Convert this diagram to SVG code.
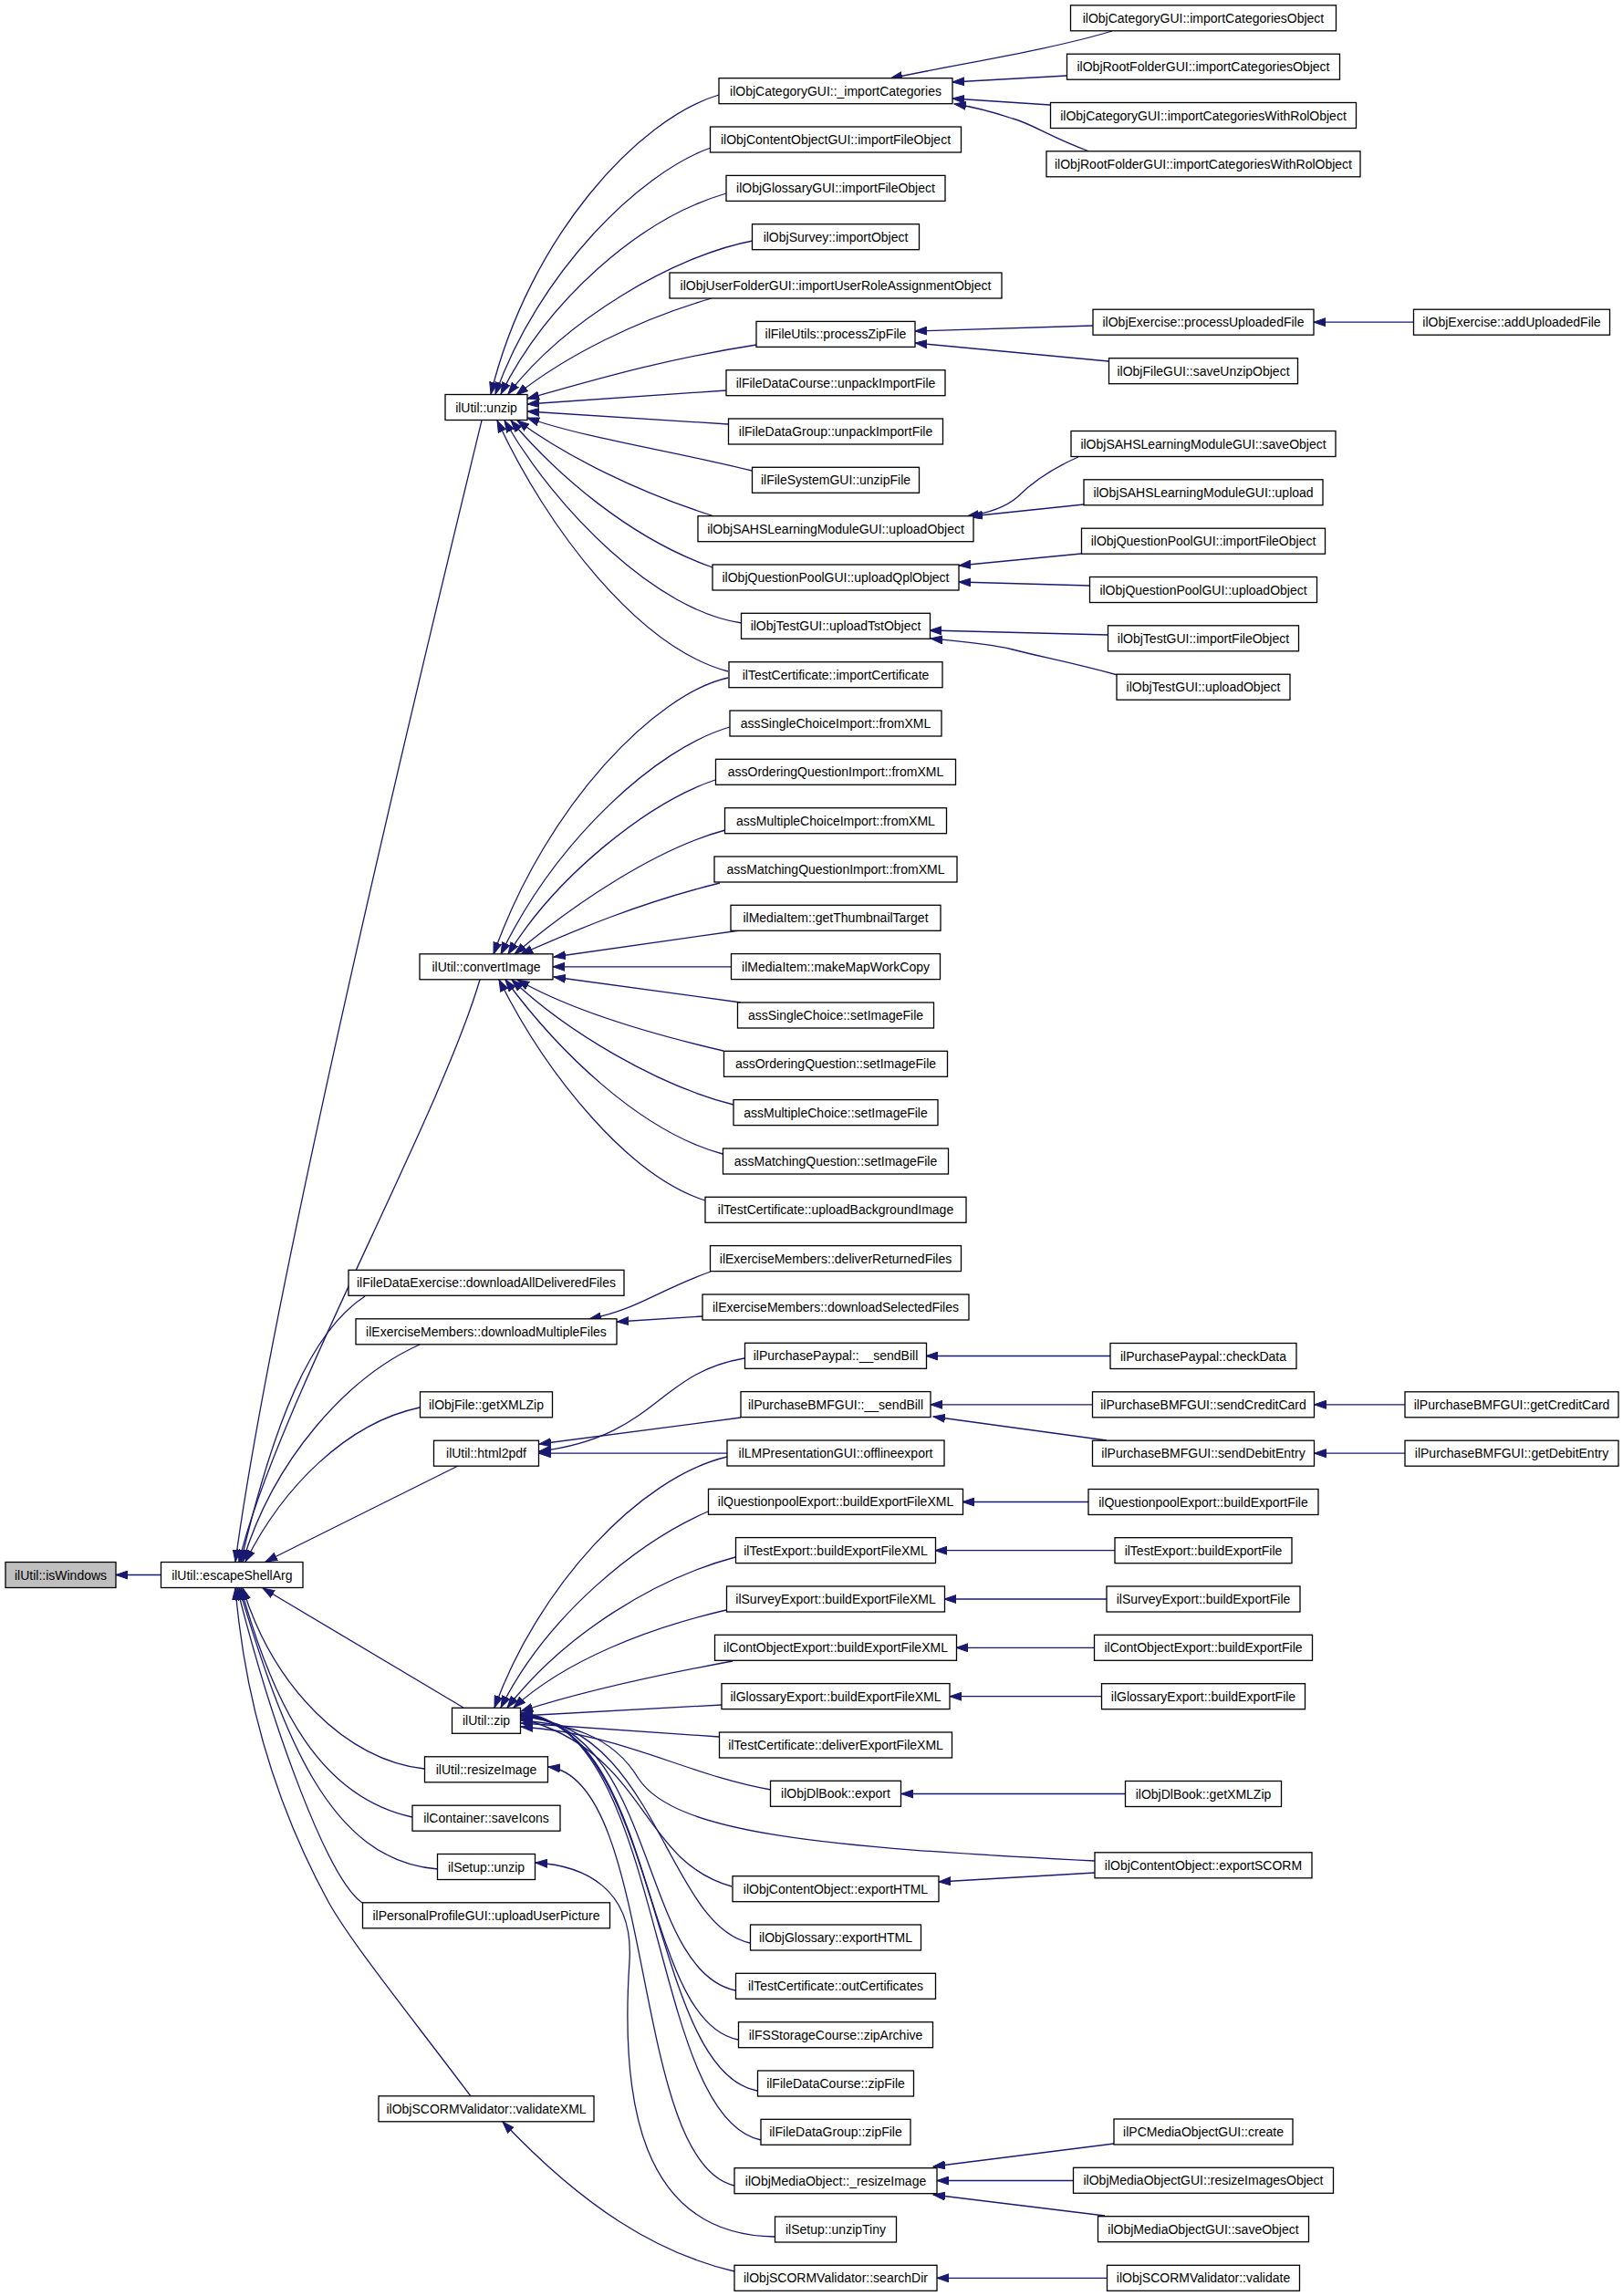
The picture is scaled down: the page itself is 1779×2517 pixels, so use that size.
<svg xmlns="http://www.w3.org/2000/svg" width="1779" height="2517" viewBox="0 0 1779 2517">
<defs>
<style>
.n rect{fill:#fff;stroke:#000;stroke-width:1.3}
.n text{font-family:"Liberation Sans",Arial,sans-serif;font-size:14px;text-anchor:middle;fill:#000}
.g rect{fill:#bfbfbf}
.e path{fill:none;stroke:#191970;stroke-width:1.3;marker-end:url(#ah)}
</style>
<marker id="ah" markerWidth="14" markerHeight="10" refX="13" refY="5" orient="auto" markerUnits="userSpaceOnUse"><path d="M0,0.5 L13,5 L0,9.5 z" fill="#191970" stroke="#191970" stroke-width="1"/></marker>
</defs>
<rect width="1779" height="2517" fill="#fff"/>
<g id="edges" class="e">
<path d="M176.5,1726.5 L127,1726.5"/>
<path d="M528,461 C 470,700 300,1400 258,1712"/>
<path d="M526,1074 C 480,1230 300,1550 262,1712"/>
<path d="M400,1421 C 340,1460 300,1560 264,1712"/>
<path d="M460,1474 C 380,1510 300,1600 266,1712"/>
<path d="M460,1543 C 380,1560 310,1630 269,1712"/>
<path d="M502,1607 L291,1712"/>
<path d="M508,1872 L288,1741"/>
<path d="M465,1939 C 380,1930 300,1850 266,1741"/>
<path d="M452,1992 C 350,1970 300,1870 264,1741"/>
<path d="M480,2049 C 360,2040 310,1900 262,1741"/>
<path d="M397,2086 C 360,2060 300,1900 260,1741"/>
<path d="M516,2298 C 450,2210 385,2130 360,2085 C 300,1975 268,1860 258,1741"/>
<path d="M788,104 C 700,130 580,260 538,432"/>
<path d="M779,162 C 700,190 590,300 543,432"/>
<path d="M796,212 C 700,240 600,330 549,432"/>
<path d="M825,264 C 740,280 620,350 557,432"/>
<path d="M780,327 C 700,350 620,390 566,433"/>
<path d="M829,378 C 720,395 640,420 578,437"/>
<path d="M796,428 L578,443"/>
<path d="M798,465 L578,451"/>
<path d="M824,516 C 740,495 640,480 578,458"/>
<path d="M783,566 C 700,540 620,500 567,461"/>
<path d="M781,622 C 690,590 610,520 560,461"/>
<path d="M813,683 C 720,670 610,560 553,461"/>
<path d="M798,736 C 700,710 600,580 545,461"/>
<path d="M798,743 C 720,760 600,880 541,1046"/>
<path d="M800,797 C 720,820 610,920 549,1046"/>
<path d="M784,855 C 710,880 610,960 557,1046"/>
<path d="M795,910 C 720,930 630,990 564,1046"/>
<path d="M789,968 C 700,990 630,1020 571,1046"/>
<path d="M811,1020 L607,1049"/>
<path d="M801.5,1059.8 L606,1059.8"/>
<path d="M812,1099 L607,1071"/>
<path d="M793,1152 C 720,1135 630,1110 567,1074"/>
<path d="M804,1211 C 720,1190 620,1130 561,1074"/>
<path d="M792,1265 C 700,1240 610,1150 554,1074"/>
<path d="M773,1316 C 690,1290 600,1180 547,1074"/>
<path d="M779,1394 C 720,1415 700,1435 646,1446"/>
<path d="M770,1443 L676,1449"/>
<path d="M816,1489 C 720,1505 720,1575 591,1591"/>
<path d="M812,1554 L591,1583"/>
<path d="M797,1593.2 L590.5,1593.2"/>
<path d="M797,1597 C 700,1620 590,1740 542,1872"/>
<path d="M776,1657 C 700,1690 600,1770 549,1872"/>
<path d="M806,1707 C 720,1730 620,1790 556,1872"/>
<path d="M796,1765 C 710,1785 620,1820 563,1872"/>
<path d="M803,1821 C 700,1840 620,1860 571,1876"/>
<path d="M791,1869 L571,1881"/>
<path d="M788,1904 L571,1889"/>
<path d="M845,1962 C 750,1945 680,1900 571,1893"/>
<path d="M1200,2040 C 900,2025 740,2010 700,1950 C 670,1900 620,1890 571,1886"/>
<path d="M802,2068 C 700,2040 710,1920 571,1884"/>
<path d="M822,2130 C 730,2110 720,1890 571,1882"/>
<path d="M806,2182 C 700,2160 720,1890 571,1881"/>
<path d="M809,2236 C 700,2215 720,1890 571,1880"/>
<path d="M830,2292 C 710,2270 725,1890 571,1879"/>
<path d="M834,2346 C 710,2320 730,1890 571,1878"/>
<path d="M805,2396 C 690,2370 720,1950 601,1937"/>
<path d="M849,2452 C 700,2450 680,2300 690,2150 C 695,2070 640,2045 587,2042"/>
<path d="M805,2490 C 720,2470 640,2420 551,2326"/>
<path d="M1219,34 C 1150,55 1050,70 976,86"/>
<path d="M1169,83 L1044,90"/>
<path d="M1151,115 L1044,108"/>
<path d="M1194,166 C 1150,150 1130,135 1110,130 C 1080,120 1060,116 1046,114"/>
<path d="M1198,357 L1003,363"/>
<path d="M1215,396 L1003,376"/>
<path d="M1549.5,353.2 L1440,353.2"/>
<path d="M1182,501 C 1150,515 1130,530 1115,545 C 1100,558 1080,563 1060,566"/>
<path d="M1188,553 L1064,566"/>
<path d="M1185,607 L1051,620"/>
<path d="M1195,642 L1051,638"/>
<path d="M1215,696 L1019,691"/>
<path d="M1225,740 C 1170,725 1140,720 1110,712 C 1080,705 1050,703 1020,700"/>
<path d="M1217,1486.5 L1015,1486.5"/>
<path d="M1197.5,1539.8 L1020,1539.8"/>
<path d="M1213,1579 L1023,1553"/>
<path d="M1540,1539.8 L1440.5,1539.8"/>
<path d="M1540,1593.2 L1440.5,1593.2"/>
<path d="M1193,1646.5 L1055,1646.5"/>
<path d="M1222,1699.7 L1025,1699.7"/>
<path d="M1213,1753 L1035,1753"/>
<path d="M1199.5,1806.3 L1048,1806.3"/>
<path d="M1207.5,1859.7 L1041,1859.7"/>
<path d="M1233.5,1966.5 L988,1966.5"/>
<path d="M1200,2053 L1029,2063"/>
<path d="M1221,2350 L1023,2375"/>
<path d="M1176.5,2390.5 L1027,2390.5"/>
<path d="M1211,2429 L1023,2406"/>
<path d="M1213.5,2497.3 L1027,2497.3"/>
</g>
<g id="n_isWindows" class="n g"><rect x="6" y="1712.5" width="121" height="28"/><text x="66.5" y="1731.5">ilUtil::isWindows</text></g>
<g id="n_escapeShellArg" class="n"><rect x="176.5" y="1712.5" width="155.5" height="28"/><text x="254.3" y="1731.5">ilUtil::escapeShellArg</text></g>
<g id="n_unzip" class="n"><rect x="488" y="432.5" width="90" height="28"/><text x="533" y="451.5">ilUtil::unzip</text></g>
<g id="n_convertImage" class="n"><rect x="460" y="1045.8" width="146" height="28"/><text x="533" y="1064.8">ilUtil::convertImage</text></g>
<g id="n_downloadAllDeliveredFiles" class="n"><rect x="382" y="1392.3" width="302" height="28"/><text x="533" y="1411.3">ilFileDataExercise::downloadAllDeliveredFiles</text></g>
<g id="n_downloadMultipleFiles" class="n"><rect x="390" y="1445.8" width="286" height="28"/><text x="533" y="1464.8">ilExerciseMembers::downloadMultipleFiles</text></g>
<g id="n_objFileGetXMLZip" class="n"><rect x="460.5" y="1525.8" width="145" height="28"/><text x="533" y="1544.8">ilObjFile::getXMLZip</text></g>
<g id="n_html2pdf" class="n"><rect x="475.5" y="1579.2" width="115" height="28"/><text x="533" y="1598.2">ilUtil::html2pdf</text></g>
<g id="n_zip" class="n"><rect x="495.5" y="1872.3" width="75" height="28"/><text x="533" y="1891.3">ilUtil::zip</text></g>
<g id="n_resizeImage" class="n"><rect x="465.5" y="1925.8" width="135" height="28"/><text x="533" y="1944.8">ilUtil::resizeImage</text></g>
<g id="n_saveIcons" class="n"><rect x="452" y="1979.2" width="162" height="28"/><text x="533" y="1998.2">ilContainer::saveIcons</text></g>
<g id="n_setupUnzip" class="n"><rect x="479.5" y="2032.5" width="107" height="28"/><text x="533" y="2051.5">ilSetup::unzip</text></g>
<g id="n_uploadUserPicture" class="n"><rect x="397.5" y="2085.8" width="271" height="28"/><text x="533" y="2104.8">ilPersonalProfileGUI::uploadUserPicture</text></g>
<g id="n_validateXML" class="n"><rect x="415" y="2297.8" width="236" height="28"/><text x="533" y="2316.8">ilObjSCORMValidator::validateXML</text></g>
<g id="n_importCategories" class="n"><rect x="788" y="85.7" width="256" height="28"/><text x="916" y="104.7">ilObjCategoryGUI::_importCategories</text></g>
<g id="n_coImportFileObject" class="n"><rect x="778.5" y="139" width="275" height="28"/><text x="916" y="158">ilObjContentObjectGUI::importFileObject</text></g>
<g id="n_glImportFileObject" class="n"><rect x="796" y="192.4" width="240" height="28"/><text x="916" y="211.4">ilObjGlossaryGUI::importFileObject</text></g>
<g id="n_surveyImportObject" class="n"><rect x="824.5" y="245.7" width="183" height="28"/><text x="916" y="264.7">ilObjSurvey::importObject</text></g>
<g id="n_importUserRole" class="n"><rect x="734" y="299" width="364" height="28"/><text x="916" y="318">ilObjUserFolderGUI::importUserRoleAssignmentObject</text></g>
<g id="n_processZipFile" class="n"><rect x="829" y="352.4" width="174" height="28"/><text x="916" y="371.4">ilFileUtils::processZipFile</text></g>
<g id="n_fdcUnpack" class="n"><rect x="796" y="405.7" width="240" height="28"/><text x="916" y="424.7">ilFileDataCourse::unpackImportFile</text></g>
<g id="n_fdgUnpack" class="n"><rect x="798.5" y="459" width="235" height="28"/><text x="916" y="478">ilFileDataGroup::unpackImportFile</text></g>
<g id="n_fsUnzipFile" class="n"><rect x="824.5" y="512.3" width="183" height="28"/><text x="916" y="531.3">ilFileSystemGUI::unzipFile</text></g>
<g id="n_sahsUploadObject" class="n"><rect x="765" y="565.7" width="302" height="28"/><text x="916" y="584.7">ilObjSAHSLearningModuleGUI::uploadObject</text></g>
<g id="n_uploadQplObject" class="n"><rect x="781" y="619" width="270" height="28"/><text x="916" y="638">ilObjQuestionPoolGUI::uploadQplObject</text></g>
<g id="n_uploadTstObject" class="n"><rect x="812.5" y="672.3" width="207" height="28"/><text x="916" y="691.3">ilObjTestGUI::uploadTstObject</text></g>
<g id="n_importCertificate" class="n"><rect x="799" y="725.7" width="234" height="28"/><text x="916" y="744.7">ilTestCertificate::importCertificate</text></g>
<g id="n_scImportFromXML" class="n"><rect x="800" y="779" width="232" height="28"/><text x="916" y="798">assSingleChoiceImport::fromXML</text></g>
<g id="n_oqImportFromXML" class="n"><rect x="784.5" y="832.3" width="263" height="28"/><text x="916" y="851.3">assOrderingQuestionImport::fromXML</text></g>
<g id="n_mcImportFromXML" class="n"><rect x="794.5" y="885.7" width="243" height="28"/><text x="916" y="904.7">assMultipleChoiceImport::fromXML</text></g>
<g id="n_mqImportFromXML" class="n"><rect x="783" y="939" width="266" height="28"/><text x="916" y="958">assMatchingQuestionImport::fromXML</text></g>
<g id="n_getThumbnailTarget" class="n"><rect x="801" y="992.3" width="230" height="28"/><text x="916" y="1011.3">ilMediaItem::getThumbnailTarget</text></g>
<g id="n_makeMapWorkCopy" class="n"><rect x="801.5" y="1045.6" width="229" height="28"/><text x="916" y="1064.6">ilMediaItem::makeMapWorkCopy</text></g>
<g id="n_scSetImageFile" class="n"><rect x="808.5" y="1099" width="215" height="28"/><text x="916" y="1118">assSingleChoice::setImageFile</text></g>
<g id="n_oqSetImageFile" class="n"><rect x="793.5" y="1152.3" width="245" height="28"/><text x="916" y="1171.3">assOrderingQuestion::setImageFile</text></g>
<g id="n_mcSetImageFile" class="n"><rect x="804" y="1205.6" width="224" height="28"/><text x="916" y="1224.6">assMultipleChoice::setImageFile</text></g>
<g id="n_mqSetImageFile" class="n"><rect x="792.5" y="1259" width="247" height="28"/><text x="916" y="1278">assMatchingQuestion::setImageFile</text></g>
<g id="n_uploadBackgroundImage" class="n"><rect x="773" y="1312.3" width="286" height="28"/><text x="916" y="1331.3">ilTestCertificate::uploadBackgroundImage</text></g>
<g id="n_deliverReturnedFiles" class="n"><rect x="778.5" y="1365.6" width="275" height="28"/><text x="916" y="1384.6">ilExerciseMembers::deliverReturnedFiles</text></g>
<g id="n_downloadSelectedFiles" class="n"><rect x="770" y="1419" width="292" height="28"/><text x="916" y="1438">ilExerciseMembers::downloadSelectedFiles</text></g>
<g id="n_paypalSendBill" class="n"><rect x="816.5" y="1472.3" width="199" height="28"/><text x="916" y="1491.3">ilPurchasePaypal::__sendBill</text></g>
<g id="n_bmfSendBill" class="n"><rect x="812" y="1525.6" width="208" height="28"/><text x="916" y="1544.6">ilPurchaseBMFGUI::__sendBill</text></g>
<g id="n_offlineexport" class="n"><rect x="797" y="1579" width="238" height="28"/><text x="916" y="1598">ilLMPresentationGUI::offlineexport</text></g>
<g id="n_qpExportXML" class="n"><rect x="776.5" y="1632.3" width="279" height="28"/><text x="916" y="1651.3">ilQuestionpoolExport::buildExportFileXML</text></g>
<g id="n_testExportXML" class="n"><rect x="806.5" y="1685.6" width="219" height="28"/><text x="916" y="1704.6">ilTestExport::buildExportFileXML</text></g>
<g id="n_surveyExportXML" class="n"><rect x="796.5" y="1739" width="239" height="28"/><text x="916" y="1758">ilSurveyExport::buildExportFileXML</text></g>
<g id="n_contObjExportXML" class="n"><rect x="783.5" y="1792.3" width="265" height="28"/><text x="916" y="1811.3">ilContObjectExport::buildExportFileXML</text></g>
<g id="n_glossaryExportXML" class="n"><rect x="791" y="1845.6" width="250" height="28"/><text x="916" y="1864.6">ilGlossaryExport::buildExportFileXML</text></g>
<g id="n_deliverExportFileXML" class="n"><rect x="788.5" y="1899" width="255" height="28"/><text x="916" y="1918">ilTestCertificate::deliverExportFileXML</text></g>
<g id="n_dlBookExport" class="n"><rect x="844.5" y="1952.3" width="143" height="28"/><text x="916" y="1971.3">ilObjDlBook::export</text></g>
<g id="n_coExportHTML" class="n"><rect x="803" y="2056.7" width="226" height="28"/><text x="916" y="2075.7">ilObjContentObject::exportHTML</text></g>
<g id="n_glExportHTML" class="n"><rect x="822.5" y="2110" width="187" height="28"/><text x="916" y="2129">ilObjGlossary::exportHTML</text></g>
<g id="n_outCertificates" class="n"><rect x="806.5" y="2163.3" width="219" height="28"/><text x="916" y="2182.3">ilTestCertificate::outCertificates</text></g>
<g id="n_zipArchive" class="n"><rect x="809.5" y="2216.7" width="213" height="28"/><text x="916" y="2235.7">ilFSStorageCourse::zipArchive</text></g>
<g id="n_fdcZipFile" class="n"><rect x="830.5" y="2270" width="171" height="28"/><text x="916" y="2289">ilFileDataCourse::zipFile</text></g>
<g id="n_fdgZipFile" class="n"><rect x="834" y="2323.3" width="164" height="28"/><text x="916" y="2342.3">ilFileDataGroup::zipFile</text></g>
<g id="n_moResizeImage" class="n"><rect x="805" y="2376.7" width="222" height="28"/><text x="916" y="2395.7">ilObjMediaObject::_resizeImage</text></g>
<g id="n_unzipTiny" class="n"><rect x="849.5" y="2430" width="133" height="28"/><text x="916" y="2449">ilSetup::unzipTiny</text></g>
<g id="n_searchDir" class="n"><rect x="805" y="2483.3" width="222" height="28"/><text x="916" y="2502.3">ilObjSCORMValidator::searchDir</text></g>
<g id="n_catImportCategoriesObject" class="n"><rect x="1173.5" y="5.8" width="291" height="28"/><text x="1319" y="24.8">ilObjCategoryGUI::importCategoriesObject</text></g>
<g id="n_rfImportCategoriesObject" class="n"><rect x="1169.5" y="59.2" width="299" height="28"/><text x="1319" y="78.2">ilObjRootFolderGUI::importCategoriesObject</text></g>
<g id="n_catImportWithRol" class="n"><rect x="1151.5" y="112.5" width="335" height="28"/><text x="1319" y="131.5">ilObjCategoryGUI::importCategoriesWithRolObject</text></g>
<g id="n_rfImportWithRol" class="n"><rect x="1147" y="165.8" width="344" height="28"/><text x="1319" y="184.8">ilObjRootFolderGUI::importCategoriesWithRolObject</text></g>
<g id="n_processUploadedFile" class="n"><rect x="1198" y="339.2" width="242" height="28"/><text x="1319" y="358.2">ilObjExercise::processUploadedFile</text></g>
<g id="n_saveUnzipObject" class="n"><rect x="1215.5" y="392.7" width="207" height="28"/><text x="1319" y="411.7">ilObjFileGUI::saveUnzipObject</text></g>
<g id="n_sahsSaveObject" class="n"><rect x="1174" y="472.5" width="290" height="28"/><text x="1319" y="491.5">ilObjSAHSLearningModuleGUI::saveObject</text></g>
<g id="n_sahsUpload" class="n"><rect x="1188" y="525.8" width="262" height="28"/><text x="1319" y="544.8">ilObjSAHSLearningModuleGUI::upload</text></g>
<g id="n_qpImportFileObject" class="n"><rect x="1185.5" y="579.2" width="267" height="28"/><text x="1319" y="598.2">ilObjQuestionPoolGUI::importFileObject</text></g>
<g id="n_qpUploadObject" class="n"><rect x="1194.5" y="632.5" width="249" height="28"/><text x="1319" y="651.5">ilObjQuestionPoolGUI::uploadObject</text></g>
<g id="n_tstImportFileObject" class="n"><rect x="1214.5" y="685.8" width="209" height="28"/><text x="1319" y="704.8">ilObjTestGUI::importFileObject</text></g>
<g id="n_tstUploadObject" class="n"><rect x="1224" y="739.2" width="190" height="28"/><text x="1319" y="758.2">ilObjTestGUI::uploadObject</text></g>
<g id="n_checkData" class="n"><rect x="1217" y="1472.5" width="204" height="28"/><text x="1319" y="1491.5">ilPurchasePaypal::checkData</text></g>
<g id="n_sendCreditCard" class="n"><rect x="1197.5" y="1525.8" width="243" height="28"/><text x="1319" y="1544.8">ilPurchaseBMFGUI::sendCreditCard</text></g>
<g id="n_sendDebitEntry" class="n"><rect x="1197.5" y="1579.2" width="243" height="28"/><text x="1319" y="1598.2">ilPurchaseBMFGUI::sendDebitEntry</text></g>
<g id="n_qpExportFile" class="n"><rect x="1193" y="1632.5" width="252" height="28"/><text x="1319" y="1651.5">ilQuestionpoolExport::buildExportFile</text></g>
<g id="n_testExportFile" class="n"><rect x="1222" y="1685.7" width="194" height="28"/><text x="1319" y="1704.7">ilTestExport::buildExportFile</text></g>
<g id="n_surveyExportFile" class="n"><rect x="1213" y="1739" width="212" height="28"/><text x="1319" y="1758">ilSurveyExport::buildExportFile</text></g>
<g id="n_contObjExportFile" class="n"><rect x="1199.5" y="1792.3" width="239" height="28"/><text x="1319" y="1811.3">ilContObjectExport::buildExportFile</text></g>
<g id="n_glossaryExportFile" class="n"><rect x="1207.5" y="1845.7" width="223" height="28"/><text x="1319" y="1864.7">ilGlossaryExport::buildExportFile</text></g>
<g id="n_dlBookGetXMLZip" class="n"><rect x="1233.5" y="1952.5" width="171" height="28"/><text x="1319" y="1971.5">ilObjDlBook::getXMLZip</text></g>
<g id="n_exportSCORM" class="n"><rect x="1200" y="2030.8" width="238" height="28"/><text x="1319" y="2049.8">ilObjContentObject::exportSCORM</text></g>
<g id="n_pcmoCreate" class="n"><rect x="1221" y="2323" width="196" height="28"/><text x="1319" y="2342">ilPCMediaObjectGUI::create</text></g>
<g id="n_resizeImagesObject" class="n"><rect x="1176.5" y="2376.3" width="285" height="28"/><text x="1319" y="2395.3">ilObjMediaObjectGUI::resizeImagesObject</text></g>
<g id="n_moSaveObject" class="n"><rect x="1203.5" y="2429.7" width="231" height="28"/><text x="1319" y="2448.7">ilObjMediaObjectGUI::saveObject</text></g>
<g id="n_scormValidate" class="n"><rect x="1213.5" y="2483.3" width="211" height="28"/><text x="1319" y="2502.3">ilObjSCORMValidator::validate</text></g>
<g id="n_addUploadedFile" class="n"><rect x="1549.5" y="339.2" width="215" height="28"/><text x="1657" y="358.2">ilObjExercise::addUploadedFile</text></g>
<g id="n_getCreditCard" class="n"><rect x="1540" y="1525.8" width="234" height="28"/><text x="1657" y="1544.8">ilPurchaseBMFGUI::getCreditCard</text></g>
<g id="n_getDebitEntry" class="n"><rect x="1540" y="1579.2" width="234" height="28"/><text x="1657" y="1598.2">ilPurchaseBMFGUI::getDebitEntry</text></g>
</svg>
